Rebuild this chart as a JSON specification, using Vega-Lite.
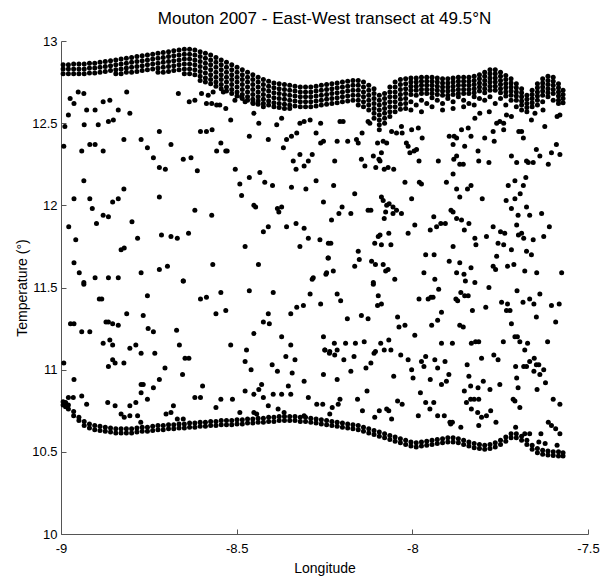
{
"$schema":"https://vega.github.io/schema/vega-lite/v6.json",
"width":527,"height":493,
"autosize":{"type":"none"},
"padding":{"left":61,"top":41,"right":12,"bottom":49},
"background":"white",
"config":{"view":{"stroke":null},"font":"Liberation Sans"},
"title":{"text":"Mouton 2007 - East-West transect at 49.5°N","font":"Liberation Sans","fontSize":17,"fontWeight":"normal","color":"black","anchor":"middle","offset":7},
"data":{"values":[
{"lon":-8.994,"temp":12.855},{"lon":-8.994,"temp":12.83},{"lon":-8.994,"temp":12.8},
{"lon":-8.979,"temp":12.855},{"lon":-8.979,"temp":12.83},{"lon":-8.979,"temp":12.8},
{"lon":-8.964,"temp":12.86},{"lon":-8.964,"temp":12.83},{"lon":-8.964,"temp":12.8},
{"lon":-8.949,"temp":12.86},{"lon":-8.949,"temp":12.83},{"lon":-8.949,"temp":12.8},
{"lon":-8.934,"temp":12.86},{"lon":-8.934,"temp":12.83},{"lon":-8.934,"temp":12.8},
{"lon":-8.919,"temp":12.865},{"lon":-8.919,"temp":12.835},{"lon":-8.919,"temp":12.805},
{"lon":-8.904,"temp":12.865},{"lon":-8.904,"temp":12.835},{"lon":-8.904,"temp":12.805},
{"lon":-8.889,"temp":12.87},{"lon":-8.889,"temp":12.84},{"lon":-8.889,"temp":12.81},
{"lon":-8.874,"temp":12.875},{"lon":-8.874,"temp":12.845},{"lon":-8.874,"temp":12.815},
{"lon":-8.859,"temp":12.88},{"lon":-8.859,"temp":12.85},{"lon":-8.859,"temp":12.82},
{"lon":-8.844,"temp":12.885},{"lon":-8.844,"temp":12.855},{"lon":-8.844,"temp":12.825},{"lon":-8.844,"temp":12.8},
{"lon":-8.829,"temp":12.89},{"lon":-8.829,"temp":12.86},{"lon":-8.829,"temp":12.83},{"lon":-8.829,"temp":12.8},
{"lon":-8.814,"temp":12.895},{"lon":-8.814,"temp":12.865},{"lon":-8.814,"temp":12.835},{"lon":-8.814,"temp":12.81},
{"lon":-8.799,"temp":12.9},{"lon":-8.799,"temp":12.87},{"lon":-8.799,"temp":12.84},{"lon":-8.799,"temp":12.81},
{"lon":-8.784,"temp":12.905},{"lon":-8.784,"temp":12.875},{"lon":-8.784,"temp":12.845},{"lon":-8.784,"temp":12.815},
{"lon":-8.769,"temp":12.91},{"lon":-8.769,"temp":12.88},{"lon":-8.769,"temp":12.85},{"lon":-8.769,"temp":12.82},
{"lon":-8.754,"temp":12.915},{"lon":-8.754,"temp":12.885},{"lon":-8.754,"temp":12.855},{"lon":-8.754,"temp":12.825},
{"lon":-8.739,"temp":12.92},{"lon":-8.739,"temp":12.89},{"lon":-8.739,"temp":12.86},{"lon":-8.739,"temp":12.83},
{"lon":-8.724,"temp":12.925},{"lon":-8.724,"temp":12.895},{"lon":-8.724,"temp":12.865},{"lon":-8.724,"temp":12.835},{"lon":-8.724,"temp":12.81},
{"lon":-8.709,"temp":12.93},{"lon":-8.709,"temp":12.9},{"lon":-8.709,"temp":12.87},{"lon":-8.709,"temp":12.84},{"lon":-8.709,"temp":12.81},
{"lon":-8.694,"temp":12.935},{"lon":-8.694,"temp":12.905},{"lon":-8.694,"temp":12.875},{"lon":-8.694,"temp":12.845},{"lon":-8.694,"temp":12.815},
{"lon":-8.679,"temp":12.94},{"lon":-8.679,"temp":12.91},{"lon":-8.679,"temp":12.88},{"lon":-8.679,"temp":12.85},{"lon":-8.679,"temp":12.82},
{"lon":-8.664,"temp":12.945},{"lon":-8.664,"temp":12.915},{"lon":-8.664,"temp":12.885},{"lon":-8.664,"temp":12.855},{"lon":-8.664,"temp":12.825},
{"lon":-8.649,"temp":12.95},{"lon":-8.649,"temp":12.92},{"lon":-8.649,"temp":12.89},{"lon":-8.649,"temp":12.86},{"lon":-8.649,"temp":12.83},{"lon":-8.649,"temp":12.8},
{"lon":-8.634,"temp":12.95},{"lon":-8.634,"temp":12.92},{"lon":-8.634,"temp":12.89},{"lon":-8.634,"temp":12.86},{"lon":-8.634,"temp":12.83},{"lon":-8.634,"temp":12.8},
{"lon":-8.619,"temp":12.945},{"lon":-8.619,"temp":12.915},{"lon":-8.619,"temp":12.885},{"lon":-8.619,"temp":12.855},{"lon":-8.619,"temp":12.825},{"lon":-8.619,"temp":12.795},
{"lon":-8.604,"temp":12.935},{"lon":-8.604,"temp":12.905},{"lon":-8.604,"temp":12.875},{"lon":-8.604,"temp":12.845},{"lon":-8.604,"temp":12.815},{"lon":-8.604,"temp":12.785},{"lon":-8.604,"temp":12.76},
{"lon":-8.589,"temp":12.925},{"lon":-8.589,"temp":12.895},{"lon":-8.589,"temp":12.865},{"lon":-8.589,"temp":12.835},{"lon":-8.589,"temp":12.805},{"lon":-8.589,"temp":12.775},{"lon":-8.589,"temp":12.75},
{"lon":-8.574,"temp":12.915},{"lon":-8.574,"temp":12.885},{"lon":-8.574,"temp":12.855},{"lon":-8.574,"temp":12.825},{"lon":-8.574,"temp":12.795},{"lon":-8.574,"temp":12.765},{"lon":-8.574,"temp":12.74},
{"lon":-8.559,"temp":12.9},{"lon":-8.559,"temp":12.87},{"lon":-8.559,"temp":12.84},{"lon":-8.559,"temp":12.81},{"lon":-8.559,"temp":12.78},{"lon":-8.559,"temp":12.75},{"lon":-8.559,"temp":12.725},
{"lon":-8.544,"temp":12.885},{"lon":-8.544,"temp":12.855},{"lon":-8.544,"temp":12.825},{"lon":-8.544,"temp":12.795},{"lon":-8.544,"temp":12.765},{"lon":-8.544,"temp":12.735},{"lon":-8.544,"temp":12.71},
{"lon":-8.529,"temp":12.87},{"lon":-8.529,"temp":12.84},{"lon":-8.529,"temp":12.81},{"lon":-8.529,"temp":12.78},{"lon":-8.529,"temp":12.75},{"lon":-8.529,"temp":12.72},{"lon":-8.529,"temp":12.695},
{"lon":-8.514,"temp":12.855},{"lon":-8.514,"temp":12.825},{"lon":-8.514,"temp":12.795},{"lon":-8.514,"temp":12.765},{"lon":-8.514,"temp":12.735},{"lon":-8.514,"temp":12.705},{"lon":-8.514,"temp":12.68},
{"lon":-8.499,"temp":12.84},{"lon":-8.499,"temp":12.81},{"lon":-8.499,"temp":12.78},{"lon":-8.499,"temp":12.75},{"lon":-8.499,"temp":12.72},{"lon":-8.499,"temp":12.69},{"lon":-8.499,"temp":12.665},
{"lon":-8.484,"temp":12.825},{"lon":-8.484,"temp":12.795},{"lon":-8.484,"temp":12.765},{"lon":-8.484,"temp":12.735},{"lon":-8.484,"temp":12.705},{"lon":-8.484,"temp":12.675},{"lon":-8.484,"temp":12.65},
{"lon":-8.469,"temp":12.81},{"lon":-8.469,"temp":12.78},{"lon":-8.469,"temp":12.75},{"lon":-8.469,"temp":12.72},{"lon":-8.469,"temp":12.69},{"lon":-8.469,"temp":12.66},{"lon":-8.469,"temp":12.64},
{"lon":-8.454,"temp":12.795},{"lon":-8.454,"temp":12.765},{"lon":-8.454,"temp":12.735},{"lon":-8.454,"temp":12.705},{"lon":-8.454,"temp":12.675},{"lon":-8.454,"temp":12.645},{"lon":-8.454,"temp":12.625},
{"lon":-8.439,"temp":12.78},{"lon":-8.439,"temp":12.75},{"lon":-8.439,"temp":12.72},{"lon":-8.439,"temp":12.69},{"lon":-8.439,"temp":12.66},{"lon":-8.439,"temp":12.635},{"lon":-8.439,"temp":12.615},
{"lon":-8.424,"temp":12.765},{"lon":-8.424,"temp":12.735},{"lon":-8.424,"temp":12.705},{"lon":-8.424,"temp":12.675},{"lon":-8.424,"temp":12.645},{"lon":-8.424,"temp":12.62},
{"lon":-8.409,"temp":12.755},{"lon":-8.409,"temp":12.725},{"lon":-8.409,"temp":12.695},{"lon":-8.409,"temp":12.665},{"lon":-8.409,"temp":12.635},{"lon":-8.409,"temp":12.61},
{"lon":-8.394,"temp":12.745},{"lon":-8.394,"temp":12.715},{"lon":-8.394,"temp":12.685},{"lon":-8.394,"temp":12.655},{"lon":-8.394,"temp":12.625},{"lon":-8.394,"temp":12.6},
{"lon":-8.379,"temp":12.74},{"lon":-8.379,"temp":12.71},{"lon":-8.379,"temp":12.68},{"lon":-8.379,"temp":12.65},{"lon":-8.379,"temp":12.62},{"lon":-8.379,"temp":12.595},
{"lon":-8.364,"temp":12.735},{"lon":-8.364,"temp":12.705},{"lon":-8.364,"temp":12.675},{"lon":-8.364,"temp":12.645},{"lon":-8.364,"temp":12.615},{"lon":-8.364,"temp":12.59},
{"lon":-8.349,"temp":12.73},{"lon":-8.349,"temp":12.7},{"lon":-8.349,"temp":12.67},{"lon":-8.349,"temp":12.64},{"lon":-8.349,"temp":12.61},{"lon":-8.349,"temp":12.59},
{"lon":-8.334,"temp":12.725},{"lon":-8.334,"temp":12.695},{"lon":-8.334,"temp":12.665},{"lon":-8.334,"temp":12.635},{"lon":-8.334,"temp":12.605},
{"lon":-8.319,"temp":12.72},{"lon":-8.319,"temp":12.69},{"lon":-8.319,"temp":12.66},{"lon":-8.319,"temp":12.63},{"lon":-8.319,"temp":12.6},
{"lon":-8.304,"temp":12.72},{"lon":-8.304,"temp":12.69},{"lon":-8.304,"temp":12.66},{"lon":-8.304,"temp":12.63},{"lon":-8.304,"temp":12.6},
{"lon":-8.289,"temp":12.72},{"lon":-8.289,"temp":12.69},{"lon":-8.289,"temp":12.66},{"lon":-8.289,"temp":12.63},{"lon":-8.289,"temp":12.6},
{"lon":-8.274,"temp":12.725},{"lon":-8.274,"temp":12.695},{"lon":-8.274,"temp":12.665},{"lon":-8.274,"temp":12.635},{"lon":-8.274,"temp":12.605},
{"lon":-8.259,"temp":12.73},{"lon":-8.259,"temp":12.7},{"lon":-8.259,"temp":12.67},{"lon":-8.259,"temp":12.64},{"lon":-8.259,"temp":12.61},
{"lon":-8.244,"temp":12.735},{"lon":-8.244,"temp":12.705},{"lon":-8.244,"temp":12.675},{"lon":-8.244,"temp":12.645},{"lon":-8.244,"temp":12.615},
{"lon":-8.229,"temp":12.74},{"lon":-8.229,"temp":12.71},{"lon":-8.229,"temp":12.68},{"lon":-8.229,"temp":12.65},{"lon":-8.229,"temp":12.62},
{"lon":-8.214,"temp":12.745},{"lon":-8.214,"temp":12.715},{"lon":-8.214,"temp":12.685},{"lon":-8.214,"temp":12.655},{"lon":-8.214,"temp":12.625},
{"lon":-8.199,"temp":12.75},{"lon":-8.199,"temp":12.72},{"lon":-8.199,"temp":12.69},{"lon":-8.199,"temp":12.66},{"lon":-8.199,"temp":12.63},
{"lon":-8.184,"temp":12.755},{"lon":-8.184,"temp":12.725},{"lon":-8.184,"temp":12.695},{"lon":-8.184,"temp":12.665},{"lon":-8.184,"temp":12.635},
{"lon":-8.169,"temp":12.76},{"lon":-8.169,"temp":12.73},{"lon":-8.169,"temp":12.7},{"lon":-8.169,"temp":12.67},{"lon":-8.169,"temp":12.64},
{"lon":-8.154,"temp":12.76},{"lon":-8.154,"temp":12.73},{"lon":-8.154,"temp":12.7},{"lon":-8.154,"temp":12.67},{"lon":-8.154,"temp":12.64},{"lon":-8.154,"temp":12.61},
{"lon":-8.139,"temp":12.75},{"lon":-8.139,"temp":12.72},{"lon":-8.139,"temp":12.69},{"lon":-8.139,"temp":12.66},{"lon":-8.139,"temp":12.63},{"lon":-8.139,"temp":12.6},
{"lon":-8.124,"temp":12.73},{"lon":-8.124,"temp":12.7},{"lon":-8.124,"temp":12.67},{"lon":-8.124,"temp":12.64},{"lon":-8.124,"temp":12.61},{"lon":-8.124,"temp":12.58},
{"lon":-8.109,"temp":12.71},{"lon":-8.109,"temp":12.68},{"lon":-8.109,"temp":12.65},{"lon":-8.109,"temp":12.62},{"lon":-8.109,"temp":12.59},{"lon":-8.109,"temp":12.56},{"lon":-8.109,"temp":12.53},
{"lon":-8.094,"temp":12.67},{"lon":-8.094,"temp":12.64},{"lon":-8.094,"temp":12.61},{"lon":-8.094,"temp":12.58},{"lon":-8.094,"temp":12.55},{"lon":-8.094,"temp":12.52},{"lon":-8.094,"temp":12.49},{"lon":-8.094,"temp":12.46},
{"lon":-8.079,"temp":12.68},{"lon":-8.079,"temp":12.65},{"lon":-8.079,"temp":12.62},{"lon":-8.079,"temp":12.59},{"lon":-8.079,"temp":12.56},{"lon":-8.079,"temp":12.53},{"lon":-8.079,"temp":12.5},
{"lon":-8.064,"temp":12.72},{"lon":-8.064,"temp":12.69},{"lon":-8.064,"temp":12.66},{"lon":-8.064,"temp":12.63},{"lon":-8.064,"temp":12.6},{"lon":-8.064,"temp":12.57},{"lon":-8.064,"temp":12.54},
{"lon":-8.049,"temp":12.75},{"lon":-8.049,"temp":12.72},{"lon":-8.049,"temp":12.69},{"lon":-8.049,"temp":12.66},{"lon":-8.049,"temp":12.63},{"lon":-8.049,"temp":12.6},{"lon":-8.049,"temp":12.57},
{"lon":-8.034,"temp":12.765},{"lon":-8.034,"temp":12.735},{"lon":-8.034,"temp":12.705},{"lon":-8.034,"temp":12.675},{"lon":-8.034,"temp":12.645},{"lon":-8.034,"temp":12.615},{"lon":-8.034,"temp":12.585},
{"lon":-8.019,"temp":12.77},{"lon":-8.019,"temp":12.74},{"lon":-8.019,"temp":12.71},{"lon":-8.019,"temp":12.68},{"lon":-8.019,"temp":12.65},{"lon":-8.019,"temp":12.62},{"lon":-8.019,"temp":12.59},
{"lon":-8.004,"temp":12.775},{"lon":-8.004,"temp":12.75},{"lon":-8.004,"temp":12.725},{"lon":-8.004,"temp":12.7},{"lon":-8.004,"temp":12.675},{"lon":-8.004,"temp":12.63},{"lon":-8.004,"temp":12.58},
{"lon":-7.989,"temp":12.775},{"lon":-7.989,"temp":12.75},{"lon":-7.989,"temp":12.725},{"lon":-7.989,"temp":12.7},{"lon":-7.989,"temp":12.67},{"lon":-7.989,"temp":12.61},
{"lon":-7.974,"temp":12.78},{"lon":-7.974,"temp":12.755},{"lon":-7.974,"temp":12.73},{"lon":-7.974,"temp":12.705},{"lon":-7.974,"temp":12.68},{"lon":-7.974,"temp":12.64},{"lon":-7.974,"temp":12.57},
{"lon":-7.959,"temp":12.78},{"lon":-7.959,"temp":12.755},{"lon":-7.959,"temp":12.73},{"lon":-7.959,"temp":12.705},{"lon":-7.959,"temp":12.68},{"lon":-7.959,"temp":12.62},
{"lon":-7.944,"temp":12.78},{"lon":-7.944,"temp":12.755},{"lon":-7.944,"temp":12.73},{"lon":-7.944,"temp":12.705},{"lon":-7.944,"temp":12.68},{"lon":-7.944,"temp":12.655},{"lon":-7.944,"temp":12.6},
{"lon":-7.929,"temp":12.775},{"lon":-7.929,"temp":12.75},{"lon":-7.929,"temp":12.725},{"lon":-7.929,"temp":12.7},{"lon":-7.929,"temp":12.675},{"lon":-7.929,"temp":12.64},
{"lon":-7.914,"temp":12.77},{"lon":-7.914,"temp":12.745},{"lon":-7.914,"temp":12.72},{"lon":-7.914,"temp":12.695},{"lon":-7.914,"temp":12.67},{"lon":-7.914,"temp":12.62},{"lon":-7.914,"temp":12.58},
{"lon":-7.899,"temp":12.77},{"lon":-7.899,"temp":12.745},{"lon":-7.899,"temp":12.72},{"lon":-7.899,"temp":12.695},{"lon":-7.899,"temp":12.67},{"lon":-7.899,"temp":12.65},
{"lon":-7.884,"temp":12.775},{"lon":-7.884,"temp":12.75},{"lon":-7.884,"temp":12.725},{"lon":-7.884,"temp":12.7},{"lon":-7.884,"temp":12.675},{"lon":-7.884,"temp":12.63},{"lon":-7.884,"temp":12.59},
{"lon":-7.869,"temp":12.78},{"lon":-7.869,"temp":12.755},{"lon":-7.869,"temp":12.73},{"lon":-7.869,"temp":12.705},{"lon":-7.869,"temp":12.68},{"lon":-7.869,"temp":12.66},
{"lon":-7.854,"temp":12.78},{"lon":-7.854,"temp":12.755},{"lon":-7.854,"temp":12.73},{"lon":-7.854,"temp":12.705},{"lon":-7.854,"temp":12.68},{"lon":-7.854,"temp":12.64},{"lon":-7.854,"temp":12.6},
{"lon":-7.839,"temp":12.78},{"lon":-7.839,"temp":12.755},{"lon":-7.839,"temp":12.73},{"lon":-7.839,"temp":12.705},{"lon":-7.839,"temp":12.68},{"lon":-7.839,"temp":12.62},
{"lon":-7.824,"temp":12.785},{"lon":-7.824,"temp":12.76},{"lon":-7.824,"temp":12.735},{"lon":-7.824,"temp":12.71},{"lon":-7.824,"temp":12.685},{"lon":-7.824,"temp":12.66},{"lon":-7.824,"temp":12.61},
{"lon":-7.809,"temp":12.795},{"lon":-7.809,"temp":12.77},{"lon":-7.809,"temp":12.745},{"lon":-7.809,"temp":12.72},{"lon":-7.809,"temp":12.695},{"lon":-7.809,"temp":12.65},
{"lon":-7.794,"temp":12.81},{"lon":-7.794,"temp":12.785},{"lon":-7.794,"temp":12.76},{"lon":-7.794,"temp":12.735},{"lon":-7.794,"temp":12.71},{"lon":-7.794,"temp":12.685},{"lon":-7.794,"temp":12.64},
{"lon":-7.779,"temp":12.825},{"lon":-7.779,"temp":12.8},{"lon":-7.779,"temp":12.775},{"lon":-7.779,"temp":12.75},{"lon":-7.779,"temp":12.725},{"lon":-7.779,"temp":12.7},{"lon":-7.779,"temp":12.66},
{"lon":-7.764,"temp":12.825},{"lon":-7.764,"temp":12.8},{"lon":-7.764,"temp":12.775},{"lon":-7.764,"temp":12.75},{"lon":-7.764,"temp":12.725},{"lon":-7.764,"temp":12.7},{"lon":-7.764,"temp":12.62},
{"lon":-7.749,"temp":12.81},{"lon":-7.749,"temp":12.785},{"lon":-7.749,"temp":12.76},{"lon":-7.749,"temp":12.735},{"lon":-7.749,"temp":12.71},{"lon":-7.749,"temp":12.685},{"lon":-7.749,"temp":12.65},
{"lon":-7.734,"temp":12.79},{"lon":-7.734,"temp":12.765},{"lon":-7.734,"temp":12.74},{"lon":-7.734,"temp":12.715},{"lon":-7.734,"temp":12.69},{"lon":-7.734,"temp":12.665},{"lon":-7.734,"temp":12.61},
{"lon":-7.719,"temp":12.77},{"lon":-7.719,"temp":12.745},{"lon":-7.719,"temp":12.72},{"lon":-7.719,"temp":12.695},{"lon":-7.719,"temp":12.67},{"lon":-7.719,"temp":12.64},
{"lon":-7.704,"temp":12.74},{"lon":-7.704,"temp":12.715},{"lon":-7.704,"temp":12.69},{"lon":-7.704,"temp":12.665},{"lon":-7.704,"temp":12.64},{"lon":-7.704,"temp":12.6},
{"lon":-7.689,"temp":12.71},{"lon":-7.689,"temp":12.685},{"lon":-7.689,"temp":12.66},{"lon":-7.689,"temp":12.635},{"lon":-7.689,"temp":12.61},{"lon":-7.689,"temp":12.58},
{"lon":-7.674,"temp":12.67},{"lon":-7.674,"temp":12.645},{"lon":-7.674,"temp":12.62},{"lon":-7.674,"temp":12.595},{"lon":-7.674,"temp":12.57},
{"lon":-7.659,"temp":12.7},{"lon":-7.659,"temp":12.675},{"lon":-7.659,"temp":12.65},{"lon":-7.659,"temp":12.625},{"lon":-7.659,"temp":12.6},
{"lon":-7.644,"temp":12.74},{"lon":-7.644,"temp":12.715},{"lon":-7.644,"temp":12.69},{"lon":-7.644,"temp":12.665},{"lon":-7.644,"temp":12.64},{"lon":-7.644,"temp":12.61},
{"lon":-7.629,"temp":12.77},{"lon":-7.629,"temp":12.745},{"lon":-7.629,"temp":12.72},{"lon":-7.629,"temp":12.695},{"lon":-7.629,"temp":12.67},{"lon":-7.629,"temp":12.63},
{"lon":-7.614,"temp":12.785},{"lon":-7.614,"temp":12.76},{"lon":-7.614,"temp":12.735},{"lon":-7.614,"temp":12.71},{"lon":-7.614,"temp":12.685},{"lon":-7.614,"temp":12.66},
{"lon":-7.599,"temp":12.78},{"lon":-7.599,"temp":12.755},{"lon":-7.599,"temp":12.73},{"lon":-7.599,"temp":12.705},{"lon":-7.599,"temp":12.68},{"lon":-7.599,"temp":12.64},
{"lon":-7.584,"temp":12.74},{"lon":-7.584,"temp":12.715},{"lon":-7.584,"temp":12.69},{"lon":-7.584,"temp":12.665},{"lon":-7.584,"temp":12.64},{"lon":-7.584,"temp":12.62},
{"lon":-7.571,"temp":12.7},{"lon":-7.571,"temp":12.675},{"lon":-7.571,"temp":12.65},{"lon":-7.571,"temp":12.625},
{"lon":-8.994,"temp":10.805},{"lon":-8.994,"temp":10.785},{"lon":-8.987,"temp":10.8},{"lon":-8.987,"temp":10.775},
{"lon":-8.979,"temp":10.785},{"lon":-8.979,"temp":10.76},{"lon":-8.964,"temp":10.745},{"lon":-8.964,"temp":10.72},
{"lon":-8.949,"temp":10.71},{"lon":-8.949,"temp":10.69},{"lon":-8.934,"temp":10.685},{"lon":-8.934,"temp":10.66},
{"lon":-8.919,"temp":10.67},{"lon":-8.919,"temp":10.645},{"lon":-8.904,"temp":10.66},{"lon":-8.904,"temp":10.635},
{"lon":-8.889,"temp":10.655},{"lon":-8.889,"temp":10.63},{"lon":-8.874,"temp":10.65},{"lon":-8.874,"temp":10.625},
{"lon":-8.859,"temp":10.645},{"lon":-8.859,"temp":10.62},{"lon":-8.844,"temp":10.64},{"lon":-8.844,"temp":10.615},
{"lon":-8.829,"temp":10.64},{"lon":-8.829,"temp":10.615},{"lon":-8.814,"temp":10.64},{"lon":-8.814,"temp":10.615},
{"lon":-8.799,"temp":10.64},{"lon":-8.799,"temp":10.615},{"lon":-8.784,"temp":10.645},{"lon":-8.784,"temp":10.62},
{"lon":-8.769,"temp":10.65},{"lon":-8.769,"temp":10.625},{"lon":-8.754,"temp":10.65},{"lon":-8.754,"temp":10.625},
{"lon":-8.739,"temp":10.655},{"lon":-8.739,"temp":10.63},{"lon":-8.724,"temp":10.66},{"lon":-8.724,"temp":10.635},
{"lon":-8.709,"temp":10.66},{"lon":-8.709,"temp":10.635},{"lon":-8.694,"temp":10.665},{"lon":-8.694,"temp":10.64},
{"lon":-8.679,"temp":10.665},{"lon":-8.679,"temp":10.64},{"lon":-8.664,"temp":10.67},{"lon":-8.664,"temp":10.645},
{"lon":-8.649,"temp":10.67},{"lon":-8.649,"temp":10.645},{"lon":-8.634,"temp":10.675},{"lon":-8.634,"temp":10.65},
{"lon":-8.619,"temp":10.675},{"lon":-8.619,"temp":10.65},{"lon":-8.604,"temp":10.68},{"lon":-8.604,"temp":10.655},
{"lon":-8.589,"temp":10.68},{"lon":-8.589,"temp":10.655},{"lon":-8.574,"temp":10.685},{"lon":-8.574,"temp":10.66},
{"lon":-8.559,"temp":10.685},{"lon":-8.559,"temp":10.66},{"lon":-8.544,"temp":10.69},{"lon":-8.544,"temp":10.665},
{"lon":-8.529,"temp":10.69},{"lon":-8.529,"temp":10.665},{"lon":-8.514,"temp":10.69},{"lon":-8.514,"temp":10.665},
{"lon":-8.499,"temp":10.695},{"lon":-8.499,"temp":10.67},{"lon":-8.484,"temp":10.695},{"lon":-8.484,"temp":10.67},
{"lon":-8.469,"temp":10.7},{"lon":-8.469,"temp":10.675},{"lon":-8.454,"temp":10.7},{"lon":-8.454,"temp":10.675},
{"lon":-8.439,"temp":10.705},{"lon":-8.439,"temp":10.68},{"lon":-8.424,"temp":10.705},{"lon":-8.424,"temp":10.68},
{"lon":-8.409,"temp":10.71},{"lon":-8.409,"temp":10.685},{"lon":-8.394,"temp":10.71},{"lon":-8.394,"temp":10.685},
{"lon":-8.379,"temp":10.715},{"lon":-8.379,"temp":10.69},{"lon":-8.364,"temp":10.715},{"lon":-8.364,"temp":10.69},
{"lon":-8.349,"temp":10.715},{"lon":-8.349,"temp":10.69},{"lon":-8.334,"temp":10.715},{"lon":-8.334,"temp":10.69},
{"lon":-8.319,"temp":10.71},{"lon":-8.319,"temp":10.685},{"lon":-8.304,"temp":10.71},{"lon":-8.304,"temp":10.685},
{"lon":-8.289,"temp":10.705},{"lon":-8.289,"temp":10.68},{"lon":-8.274,"temp":10.7},{"lon":-8.274,"temp":10.675},
{"lon":-8.259,"temp":10.695},{"lon":-8.259,"temp":10.67},{"lon":-8.244,"temp":10.69},{"lon":-8.244,"temp":10.665},
{"lon":-8.229,"temp":10.685},{"lon":-8.229,"temp":10.66},{"lon":-8.214,"temp":10.68},{"lon":-8.214,"temp":10.655},
{"lon":-8.199,"temp":10.675},{"lon":-8.199,"temp":10.65},{"lon":-8.184,"temp":10.67},{"lon":-8.184,"temp":10.645},
{"lon":-8.169,"temp":10.665},{"lon":-8.169,"temp":10.64},{"lon":-8.154,"temp":10.66},{"lon":-8.154,"temp":10.635},
{"lon":-8.139,"temp":10.65},{"lon":-8.139,"temp":10.625},{"lon":-8.124,"temp":10.64},{"lon":-8.124,"temp":10.615},
{"lon":-8.109,"temp":10.63},{"lon":-8.109,"temp":10.605},{"lon":-8.094,"temp":10.62},{"lon":-8.094,"temp":10.595},
{"lon":-8.079,"temp":10.61},{"lon":-8.079,"temp":10.585},{"lon":-8.064,"temp":10.6},{"lon":-8.064,"temp":10.575},
{"lon":-8.049,"temp":10.59},{"lon":-8.049,"temp":10.565},{"lon":-8.034,"temp":10.58},{"lon":-8.034,"temp":10.555},
{"lon":-8.019,"temp":10.57},{"lon":-8.019,"temp":10.545},{"lon":-8.004,"temp":10.56},{"lon":-8.004,"temp":10.535},
{"lon":-7.989,"temp":10.555},{"lon":-7.989,"temp":10.53},{"lon":-7.974,"temp":10.56},{"lon":-7.974,"temp":10.535},
{"lon":-7.959,"temp":10.565},{"lon":-7.959,"temp":10.54},{"lon":-7.944,"temp":10.57},{"lon":-7.944,"temp":10.545},
{"lon":-7.929,"temp":10.575},{"lon":-7.929,"temp":10.55},{"lon":-7.914,"temp":10.58},{"lon":-7.914,"temp":10.555},
{"lon":-7.899,"temp":10.585},{"lon":-7.899,"temp":10.56},{"lon":-7.884,"temp":10.585},{"lon":-7.884,"temp":10.56},
{"lon":-7.869,"temp":10.58},{"lon":-7.869,"temp":10.555},{"lon":-7.854,"temp":10.57},{"lon":-7.854,"temp":10.545},
{"lon":-7.839,"temp":10.56},{"lon":-7.839,"temp":10.535},{"lon":-7.824,"temp":10.55},{"lon":-7.824,"temp":10.525},
{"lon":-7.809,"temp":10.545},{"lon":-7.809,"temp":10.52},{"lon":-7.794,"temp":10.54},{"lon":-7.794,"temp":10.515},
{"lon":-7.779,"temp":10.545},{"lon":-7.779,"temp":10.52},{"lon":-7.764,"temp":10.555},{"lon":-7.764,"temp":10.53},
{"lon":-7.749,"temp":10.57},{"lon":-7.749,"temp":10.545},{"lon":-7.734,"temp":10.59},{"lon":-7.734,"temp":10.565},
{"lon":-7.719,"temp":10.61},{"lon":-7.719,"temp":10.585},{"lon":-7.704,"temp":10.61},{"lon":-7.704,"temp":10.585},
{"lon":-7.689,"temp":10.595},{"lon":-7.689,"temp":10.57},{"lon":-7.674,"temp":10.57},{"lon":-7.674,"temp":10.545},
{"lon":-7.659,"temp":10.54},{"lon":-7.659,"temp":10.515},{"lon":-7.644,"temp":10.52},{"lon":-7.644,"temp":10.495},
{"lon":-7.629,"temp":10.51},{"lon":-7.629,"temp":10.485},{"lon":-7.614,"temp":10.505},{"lon":-7.614,"temp":10.48},
{"lon":-7.599,"temp":10.5},{"lon":-7.599,"temp":10.478},{"lon":-7.584,"temp":10.5},{"lon":-7.584,"temp":10.475},
{"lon":-7.571,"temp":10.495},{"lon":-7.571,"temp":10.475},
{"lon":-8.974,"temp":12.65},{"lon":-8.963,"temp":12.62},{"lon":-8.951,"temp":12.69},{"lon":-8.935,"temp":12.68},{"lon":-8.979,"temp":12.55},{"lon":-8.989,"temp":12.48},{"lon":-8.992,"temp":12.36},{"lon":-8.927,"temp":12.58},{"lon":-8.903,"temp":12.58},{"lon":-8.88,"temp":12.63},{"lon":-8.861,"temp":12.64},{"lon":-8.837,"temp":12.58},{"lon":-8.804,"temp":12.56},{"lon":-8.813,"temp":12.69},{"lon":-8.934,"temp":12.49},{"lon":-8.894,"temp":12.49},{"lon":-8.865,"temp":12.51},{"lon":-8.851,"temp":12.52},{"lon":-8.918,"temp":12.37},{"lon":-8.903,"temp":12.37},{"lon":-8.941,"temp":12.33},{"lon":-8.88,"temp":12.33},{"lon":-8.821,"temp":12.4},{"lon":-8.772,"temp":12.4},{"lon":-8.754,"temp":12.35},{"lon":-8.737,"temp":12.29},{"lon":-8.72,"temp":12.45},{"lon":-8.687,"temp":12.37},{"lon":-8.72,"temp":12.23},{"lon":-8.703,"temp":12.22},{"lon":-8.652,"temp":12.28},{"lon":-8.63,"temp":12.29},{"lon":-8.612,"temp":12.21},{"lon":-8.603,"temp":12.45},{"lon":-8.586,"temp":12.45},{"lon":-8.57,"temp":12.46},{"lon":-8.557,"temp":12.33},{"lon":-8.545,"temp":12.38},{"lon":-8.531,"temp":12.33},{"lon":-8.527,"temp":12.33},{"lon":-8.517,"temp":12.52},{"lon":-8.504,"temp":12.22},{"lon":-8.491,"temp":12.13},{"lon":-8.486,"temp":12.06},{"lon":-8.464,"temp":12.17},{"lon":-8.434,"temp":12.2},{"lon":-8.42,"temp":12.14},{"lon":-8.398,"temp":12.12},{"lon":-8.464,"temp":12.42},{"lon":-8.437,"temp":12.5},{"lon":-8.41,"temp":12.4},{"lon":-8.451,"temp":12.56},{"lon":-8.424,"temp":12.6},{"lon":-8.386,"temp":12.49},{"lon":-8.372,"temp":12.53},{"lon":-8.367,"temp":12.35},{"lon":-8.358,"temp":12.4},{"lon":-8.344,"temp":12.42},{"lon":-8.329,"temp":12.44},{"lon":-8.32,"temp":12.5},{"lon":-8.308,"temp":12.51},{"lon":-8.291,"temp":12.52},{"lon":-8.261,"temp":12.5},{"lon":-8.339,"temp":12.27},{"lon":-8.32,"temp":12.31},{"lon":-8.331,"temp":12.22},{"lon":-8.308,"temp":12.24},{"lon":-8.296,"temp":12.27},{"lon":-8.285,"temp":12.31},{"lon":-8.274,"temp":12.15},{"lon":-8.274,"temp":12.44},{"lon":-8.261,"temp":12.38},{"lon":-8.253,"temp":12.39},{"lon":-8.344,"temp":12.11},{"lon":-8.303,"temp":12.1},{"lon":-8.253,"temp":12.02},{"lon":-8.935,"temp":12.15},{"lon":-8.963,"temp":12.04},{"lon":-8.918,"temp":12.04},{"lon":-8.911,"temp":11.98},{"lon":-8.88,"temp":11.94},{"lon":-8.865,"temp":11.93},{"lon":-8.899,"temp":11.89},{"lon":-8.853,"temp":12.02},{"lon":-8.837,"temp":12.04},{"lon":-8.821,"temp":12.1},{"lon":-8.72,"temp":12.05},{"lon":-8.798,"temp":11.9},{"lon":-8.782,"temp":11.8},{"lon":-8.978,"temp":11.87},{"lon":-8.958,"temp":11.79},{"lon":-8.714,"temp":11.82},{"lon":-8.687,"temp":11.81},{"lon":-8.669,"temp":11.8},{"lon":-8.637,"temp":11.83},{"lon":-8.619,"temp":11.97},{"lon":-8.571,"temp":11.94},{"lon":-8.829,"temp":11.73},{"lon":-8.82,"temp":11.74},{"lon":-8.963,"temp":11.65},{"lon":-8.948,"temp":11.59},{"lon":-8.935,"temp":11.53},{"lon":-8.903,"temp":11.56},{"lon":-8.865,"temp":11.56},{"lon":-8.837,"temp":11.56},{"lon":-8.772,"temp":11.59},{"lon":-8.72,"temp":11.61},{"lon":-8.697,"temp":11.63},{"lon":-8.652,"temp":11.54},{"lon":-8.568,"temp":11.64},{"lon":-8.476,"temp":11.75},{"lon":-8.438,"temp":11.64},{"lon":-8.451,"temp":12.0},{"lon":-8.446,"temp":11.99},{"lon":-8.424,"temp":11.84},{"lon":-8.41,"temp":11.87},{"lon":-8.384,"temp":11.98},{"lon":-8.372,"temp":11.99},{"lon":-8.38,"temp":11.96},{"lon":-8.358,"temp":11.87},{"lon":-8.331,"temp":11.89},{"lon":-8.308,"temp":11.86},{"lon":-8.32,"temp":11.75},{"lon":-8.296,"temp":11.8},{"lon":-8.263,"temp":11.79},{"lon":-8.239,"temp":11.77},{"lon":-8.239,"temp":11.68},{"lon":-8.282,"temp":11.56},{"lon":-8.246,"temp":11.58},{"lon":-8.586,"temp":12.62},{"lon":-8.571,"temp":12.62},{"lon":-8.557,"temp":12.61},{"lon":-8.548,"temp":12.61},{"lon":-8.531,"temp":12.59},{"lon":-8.505,"temp":12.64},{"lon":-8.486,"temp":12.66},{"lon":-8.476,"temp":12.63},{"lon":-8.453,"temp":12.62},{"lon":-8.666,"temp":12.68},{"lon":-8.635,"temp":12.63},{"lon":-8.619,"temp":12.64},{"lon":-8.6,"temp":12.68},{"lon":-8.581,"temp":12.67},{"lon":-8.567,"temp":12.69},{"lon":-8.538,"temp":12.69},
{"lon":-8.206,"temp":12.51},{"lon":-8.197,"temp":12.51},{"lon":-8.214,"temp":12.39},{"lon":-8.184,"temp":12.39},{"lon":-8.221,"temp":12.27},{"lon":-8.159,"temp":12.4},{"lon":-8.154,"temp":12.38},{"lon":-8.143,"temp":12.44},{"lon":-8.126,"temp":12.51},{"lon":-8.121,"temp":12.5},{"lon":-8.145,"temp":12.28},{"lon":-8.135,"temp":12.24},{"lon":-8.111,"temp":12.3},{"lon":-8.104,"temp":12.23},{"lon":-8.095,"temp":12.28},{"lon":-8.092,"temp":12.27},{"lon":-8.088,"temp":12.32},{"lon":-8.08,"temp":12.22},{"lon":-8.069,"temp":12.23},{"lon":-8.053,"temp":12.22},{"lon":-8.099,"temp":12.38},{"lon":-8.083,"temp":12.39},{"lon":-8.073,"temp":12.38},{"lon":-8.059,"temp":12.45},{"lon":-8.045,"temp":12.44},{"lon":-8.031,"temp":12.48},{"lon":-8.029,"temp":12.44},{"lon":-8.017,"temp":12.38},{"lon":-8.012,"temp":12.36},{"lon":-8.007,"temp":12.32},{"lon":-7.995,"temp":12.33},{"lon":-7.988,"temp":12.34},{"lon":-8.002,"temp":12.46},{"lon":-7.983,"temp":12.47},{"lon":-7.972,"temp":12.41},{"lon":-7.981,"temp":12.27},{"lon":-7.926,"temp":12.27},{"lon":-7.895,"temp":12.42},{"lon":-7.881,"temp":12.42},{"lon":-7.884,"temp":12.37},{"lon":-7.874,"temp":12.41},{"lon":-7.882,"temp":12.28},{"lon":-7.874,"temp":12.3},{"lon":-7.865,"temp":12.25},{"lon":-7.855,"temp":12.25},{"lon":-7.851,"temp":12.36},{"lon":-7.86,"temp":12.46},{"lon":-7.841,"temp":12.47},{"lon":-7.833,"temp":12.42},{"lon":-7.822,"temp":12.53},{"lon":-7.808,"temp":12.56},{"lon":-7.794,"temp":12.41},{"lon":-7.781,"temp":12.57},{"lon":-7.77,"temp":12.45},{"lon":-7.767,"temp":12.39},{"lon":-7.76,"temp":12.5},{"lon":-7.751,"temp":12.51},{"lon":-7.74,"temp":12.5},{"lon":-7.74,"temp":12.46},{"lon":-7.732,"temp":12.55},{"lon":-7.718,"temp":12.54},{"lon":-7.697,"temp":12.45},{"lon":-7.689,"temp":12.45},{"lon":-7.684,"temp":12.41},{"lon":-7.718,"temp":12.3},{"lon":-7.703,"temp":12.26},{"lon":-7.675,"temp":12.27},{"lon":-7.67,"temp":12.26},{"lon":-7.656,"temp":12.26},{"lon":-7.647,"temp":12.34},{"lon":-7.637,"temp":12.3},{"lon":-7.623,"temp":12.48},{"lon":-7.613,"temp":12.25},{"lon":-7.604,"temp":12.32},{"lon":-7.59,"temp":12.37},{"lon":-7.58,"temp":12.31},{"lon":-7.588,"temp":12.54},{"lon":-7.58,"temp":12.55},{"lon":-7.661,"temp":12.52},{"lon":-7.651,"temp":12.56},{"lon":-7.628,"temp":12.58},{"lon":-7.813,"temp":12.33},{"lon":-7.811,"temp":12.27},{"lon":-7.782,"temp":12.26},{"lon":-8.224,"temp":12.12},{"lon":-8.23,"temp":11.91},{"lon":-8.232,"temp":11.77},{"lon":-8.24,"temp":11.68},{"lon":-8.244,"temp":11.59},{"lon":-8.225,"temp":11.6},{"lon":-8.209,"temp":11.95},{"lon":-8.2,"temp":11.99},{"lon":-8.175,"temp":11.95},{"lon":-8.164,"temp":12.07},{"lon":-8.154,"temp":11.72},{"lon":-8.151,"temp":11.67},{"lon":-8.164,"temp":11.63},{"lon":-8.116,"temp":11.66},{"lon":-8.105,"temp":11.64},{"lon":-8.111,"temp":11.53},{"lon":-8.126,"temp":11.97},{"lon":-8.118,"temp":11.97},{"lon":-8.088,"temp":12.05},{"lon":-8.083,"temp":12.03},{"lon":-8.073,"temp":12.0},{"lon":-8.066,"temp":12.01},{"lon":-8.08,"temp":11.92},{"lon":-8.076,"temp":11.96},{"lon":-8.055,"temp":11.99},{"lon":-8.055,"temp":11.95},{"lon":-8.045,"temp":11.97},{"lon":-8.031,"temp":11.95},{"lon":-8.097,"temp":11.81},{"lon":-8.092,"temp":11.82},{"lon":-8.107,"temp":11.77},{"lon":-8.088,"temp":11.76},{"lon":-8.067,"temp":11.83},{"lon":-8.061,"temp":11.76},{"lon":-8.083,"temp":11.64},{"lon":-8.076,"temp":11.6},{"lon":-8.069,"temp":11.61},{"lon":-8.05,"temp":11.55},{"lon":-8.021,"temp":12.14},{"lon":-8.002,"temp":12.04},{"lon":-8.012,"temp":11.83},{"lon":-7.993,"temp":11.88},{"lon":-7.98,"temp":12.14},{"lon":-7.974,"temp":12.13},{"lon":-7.962,"temp":11.7},{"lon":-7.939,"temp":11.93},{"lon":-7.938,"temp":11.7},{"lon":-7.949,"temp":11.85},{"lon":-7.931,"temp":11.87},{"lon":-7.919,"temp":11.89},{"lon":-7.906,"temp":11.89},{"lon":-7.967,"temp":11.59},{"lon":-7.936,"temp":11.55},{"lon":-7.903,"temp":12.14},{"lon":-7.884,"temp":12.19},{"lon":-7.874,"temp":12.1},{"lon":-7.865,"temp":12.05},{"lon":-7.843,"temp":12.1},{"lon":-7.833,"temp":12.12},{"lon":-7.89,"temp":11.97},{"lon":-7.884,"temp":11.96},{"lon":-7.874,"temp":11.92},{"lon":-7.86,"temp":11.91},{"lon":-7.852,"temp":11.85},{"lon":-7.839,"temp":11.89},{"lon":-7.884,"temp":11.75},{"lon":-7.895,"temp":11.66},{"lon":-7.865,"temp":11.65},{"lon":-7.874,"temp":11.59},{"lon":-7.853,"temp":11.58},{"lon":-7.849,"temp":11.54},{"lon":-7.822,"temp":11.53},{"lon":-7.833,"temp":11.62},{"lon":-7.822,"temp":11.8},{"lon":-7.819,"temp":11.76},{"lon":-7.801,"temp":12.04},{"lon":-7.789,"temp":11.81},{"lon":-7.77,"temp":11.87},{"lon":-7.76,"temp":11.69},{"lon":-7.77,"temp":11.63},{"lon":-7.763,"temp":11.61},{"lon":-7.756,"temp":11.77},{"lon":-7.749,"temp":11.84},{"lon":-7.737,"temp":11.83},{"lon":-7.74,"temp":11.76},{"lon":-7.729,"temp":11.63},{"lon":-7.718,"temp":11.73},{"lon":-7.711,"temp":11.64},{"lon":-7.733,"temp":12.03},{"lon":-7.727,"temp":12.12},{"lon":-7.718,"temp":11.98},{"lon":-7.708,"temp":12.04},{"lon":-7.708,"temp":12.15},{"lon":-7.693,"temp":12.07},{"lon":-7.699,"temp":11.94},{"lon":-7.684,"temp":12.12},{"lon":-7.677,"temp":12.17},{"lon":-7.675,"temp":11.99},{"lon":-7.666,"temp":11.94},{"lon":-7.703,"temp":11.88},{"lon":-7.698,"temp":11.82},{"lon":-7.689,"temp":11.83},{"lon":-7.683,"temp":11.8},{"lon":-7.656,"temp":11.79},{"lon":-7.675,"temp":11.72},{"lon":-7.661,"temp":11.7},{"lon":-7.646,"temp":11.59},{"lon":-7.632,"temp":11.95},{"lon":-7.626,"temp":11.81},{"lon":-7.61,"temp":11.87},{"lon":-7.575,"temp":11.59},{"lon":-7.68,"temp":11.6},
{"lon":-8.935,"temp":11.52},{"lon":-8.891,"temp":11.43},{"lon":-8.884,"temp":11.43},{"lon":-8.973,"temp":11.28},{"lon":-8.963,"temp":11.28},{"lon":-8.941,"temp":11.23},{"lon":-8.918,"temp":11.23},{"lon":-8.992,"temp":11.04},{"lon":-8.963,"temp":10.94},{"lon":-8.979,"temp":10.83},{"lon":-8.965,"temp":10.83},{"lon":-8.941,"temp":10.84},{"lon":-8.927,"temp":10.79},{"lon":-8.88,"temp":11.16},{"lon":-8.861,"temp":11.18},{"lon":-8.853,"temp":11.15},{"lon":-8.872,"temp":11.29},{"lon":-8.865,"temp":11.29},{"lon":-8.853,"temp":11.28},{"lon":-8.837,"temp":11.27},{"lon":-8.813,"temp":11.34},{"lon":-8.766,"temp":11.33},{"lon":-8.752,"temp":11.25},{"lon":-8.737,"temp":11.23},{"lon":-8.754,"temp":11.45},{"lon":-8.865,"temp":11.02},{"lon":-8.853,"temp":11.06},{"lon":-8.846,"temp":11.04},{"lon":-8.821,"temp":11.04},{"lon":-8.804,"temp":11.13},{"lon":-8.787,"temp":11.15},{"lon":-8.772,"temp":11.1},{"lon":-8.733,"temp":11.1},{"lon":-8.704,"temp":11.01},{"lon":-8.72,"temp":10.94},{"lon":-8.737,"temp":10.89},{"lon":-8.772,"temp":10.91},{"lon":-8.766,"temp":10.91},{"lon":-8.772,"temp":10.86},{"lon":-8.754,"temp":10.82},{"lon":-8.867,"temp":10.8},{"lon":-8.846,"temp":10.78},{"lon":-8.829,"temp":10.73},{"lon":-8.82,"temp":10.71},{"lon":-8.804,"temp":10.78},{"lon":-8.787,"temp":10.8},{"lon":-8.804,"temp":10.72},{"lon":-8.782,"temp":10.72},{"lon":-8.773,"temp":10.68},{"lon":-8.671,"temp":11.24},{"lon":-8.663,"temp":11.15},{"lon":-8.647,"temp":11.07},{"lon":-8.636,"temp":11.07},{"lon":-8.654,"temp":10.97},{"lon":-8.652,"temp":11.54},{"lon":-8.603,"temp":11.43},{"lon":-8.586,"temp":11.44},{"lon":-8.559,"temp":11.34},{"lon":-8.545,"temp":11.47},{"lon":-8.531,"temp":11.36},{"lon":-8.517,"temp":11.15},{"lon":-8.619,"temp":10.83},{"lon":-8.603,"temp":10.83},{"lon":-8.597,"temp":10.9},{"lon":-8.68,"temp":10.78},{"lon":-8.701,"temp":10.73},{"lon":-8.687,"temp":10.74},{"lon":-8.669,"temp":10.7},{"lon":-8.652,"temp":10.7},{"lon":-8.559,"temp":10.77},{"lon":-8.545,"temp":10.82},{"lon":-8.512,"temp":10.82},{"lon":-8.491,"temp":10.74},{"lon":-8.476,"temp":10.87},{"lon":-8.476,"temp":11.05},{"lon":-8.472,"temp":11.12},{"lon":-8.459,"temp":11.0},{"lon":-8.451,"temp":11.22},{"lon":-8.464,"temp":11.48},{"lon":-8.424,"temp":11.29},{"lon":-8.41,"temp":11.34},{"lon":-8.407,"temp":11.28},{"lon":-8.396,"temp":11.47},{"lon":-8.399,"temp":11.03},{"lon":-8.384,"temp":10.99},{"lon":-8.372,"temp":11.2},{"lon":-8.346,"temp":11.34},{"lon":-8.329,"temp":11.38},{"lon":-8.31,"temp":11.39},{"lon":-8.291,"temp":11.46},{"lon":-8.261,"temp":11.4},{"lon":-8.346,"temp":11.15},{"lon":-8.334,"temp":11.06},{"lon":-8.36,"temp":11.08},{"lon":-8.342,"temp":10.98},{"lon":-8.353,"temp":10.9},{"lon":-8.346,"temp":10.85},{"lon":-8.308,"temp":10.93},{"lon":-8.296,"temp":10.83},{"lon":-8.272,"temp":10.79},{"lon":-8.255,"temp":10.79},{"lon":-8.253,"temp":10.97},{"lon":-8.249,"temp":11.12},{"lon":-8.236,"temp":11.1},{"lon":-8.253,"temp":11.2},{"lon":-8.451,"temp":10.85},{"lon":-8.437,"temp":10.88},{"lon":-8.429,"temp":10.91},{"lon":-8.451,"temp":10.74},{"lon":-8.443,"temp":10.73},{"lon":-8.424,"temp":10.83},{"lon":-8.41,"temp":10.78},{"lon":-8.396,"temp":10.85},{"lon":-8.382,"temp":10.76},{"lon":-8.372,"temp":10.85},{"lon":-8.365,"temp":10.74},{"lon":-8.308,"temp":10.72},{"lon":-8.285,"temp":11.55},
{"lon":-8.111,"temp":11.52},{"lon":-8.097,"temp":11.45},{"lon":-8.099,"temp":11.39},{"lon":-8.088,"temp":11.4},{"lon":-8.214,"temp":11.46},{"lon":-8.204,"temp":11.42},{"lon":-8.185,"temp":11.31},{"lon":-8.145,"temp":11.33},{"lon":-8.126,"temp":11.31},{"lon":-8.249,"temp":11.12},{"lon":-8.235,"temp":11.11},{"lon":-8.222,"temp":11.16},{"lon":-8.214,"temp":11.12},{"lon":-8.221,"temp":11.09},{"lon":-8.19,"temp":11.16},{"lon":-8.195,"temp":11.06},{"lon":-8.162,"temp":11.16},{"lon":-8.166,"temp":11.08},{"lon":-8.137,"temp":11.17},{"lon":-8.175,"temp":10.99},{"lon":-8.214,"temp":10.94},{"lon":-8.132,"temp":11.01},{"lon":-8.118,"temp":11.04},{"lon":-8.109,"temp":11.1},{"lon":-8.105,"temp":11.11},{"lon":-8.09,"temp":11.16},{"lon":-8.08,"temp":11.12},{"lon":-8.067,"temp":11.18},{"lon":-8.061,"temp":11.12},{"lon":-8.053,"temp":10.96},{"lon":-8.129,"temp":10.87},{"lon":-8.156,"temp":10.82},{"lon":-8.206,"temp":10.82},{"lon":-8.211,"temp":10.79},{"lon":-8.228,"temp":10.77},{"lon":-8.235,"temp":10.73},{"lon":-8.142,"temp":10.75},{"lon":-8.107,"temp":10.71},{"lon":-8.094,"temp":10.75},{"lon":-8.073,"temp":10.76},{"lon":-8.067,"temp":10.75},{"lon":-8.059,"temp":10.7},{"lon":-8.042,"temp":10.81},{"lon":-8.029,"temp":10.79},{"lon":-8.042,"temp":11.32},{"lon":-8.038,"temp":11.26},{"lon":-8.021,"temp":11.27},{"lon":-7.993,"temp":11.21},{"lon":-8.033,"temp":11.09},{"lon":-8.012,"temp":11.06},{"lon":-8.002,"temp":11.0},{"lon":-7.998,"temp":10.95},{"lon":-7.974,"temp":11.05},{"lon":-7.967,"temp":11.02},{"lon":-7.962,"temp":11.08},{"lon":-7.981,"temp":11.43},{"lon":-7.955,"temp":11.43},{"lon":-7.947,"temp":11.44},{"lon":-7.941,"temp":11.44},{"lon":-7.925,"temp":11.49},{"lon":-7.928,"temp":11.3},{"lon":-7.945,"temp":11.27},{"lon":-7.917,"temp":11.35},{"lon":-7.917,"temp":11.16},{"lon":-7.886,"temp":11.16},{"lon":-7.936,"temp":11.06},{"lon":-7.928,"temp":11.01},{"lon":-7.907,"temp":11.05},{"lon":-7.896,"temp":10.97},{"lon":-7.949,"temp":10.94},{"lon":-7.917,"temp":10.91},{"lon":-7.903,"temp":10.93},{"lon":-7.977,"temp":10.86},{"lon":-7.962,"temp":10.8},{"lon":-7.95,"temp":10.76},{"lon":-7.939,"temp":10.8},{"lon":-7.983,"temp":10.72},{"lon":-7.928,"temp":10.72},{"lon":-7.909,"temp":10.72},{"lon":-7.893,"temp":10.68},{"lon":-7.886,"temp":10.68},{"lon":-7.876,"temp":11.43},{"lon":-7.862,"temp":11.47},{"lon":-7.871,"temp":11.42},{"lon":-7.851,"temp":11.45},{"lon":-7.841,"temp":11.45},{"lon":-7.865,"temp":11.27},{"lon":-7.855,"temp":11.26},{"lon":-7.832,"temp":11.16},{"lon":-7.82,"temp":11.17},{"lon":-7.811,"temp":11.17},{"lon":-7.829,"temp":11.36},{"lon":-7.803,"temp":11.07},{"lon":-7.791,"temp":11.38},{"lon":-7.782,"temp":11.5},{"lon":-7.768,"temp":11.09},{"lon":-7.756,"temp":11.06},{"lon":-7.844,"temp":11.03},{"lon":-7.839,"temp":10.96},{"lon":-7.834,"temp":10.9},{"lon":-7.813,"temp":10.89},{"lon":-7.852,"temp":10.87},{"lon":-7.798,"temp":10.93},{"lon":-7.779,"temp":10.88},{"lon":-7.751,"temp":10.91},{"lon":-7.834,"temp":10.82},{"lon":-7.824,"temp":10.82},{"lon":-7.811,"temp":10.82},{"lon":-7.846,"temp":10.8},{"lon":-7.832,"temp":10.76},{"lon":-7.814,"temp":10.74},{"lon":-7.803,"temp":10.71},{"lon":-7.789,"temp":10.72},{"lon":-7.777,"temp":10.75},{"lon":-7.811,"temp":10.66},{"lon":-7.891,"temp":10.67},{"lon":-7.862,"temp":10.65},{"lon":-7.762,"temp":10.68},{"lon":-7.746,"temp":11.41},{"lon":-7.729,"temp":11.4},{"lon":-7.732,"temp":11.36},{"lon":-7.722,"temp":11.36},{"lon":-7.718,"temp":11.28},{"lon":-7.702,"temp":11.48},{"lon":-7.685,"temp":11.41},{"lon":-7.666,"temp":11.43},{"lon":-7.654,"temp":11.4},{"lon":-7.637,"temp":11.46},{"lon":-7.647,"temp":11.32},{"lon":-7.708,"temp":11.2},{"lon":-7.701,"temp":11.2},{"lon":-7.694,"temp":11.17},{"lon":-7.68,"temp":11.12},{"lon":-7.672,"temp":11.16},{"lon":-7.615,"temp":11.17},{"lon":-7.604,"temp":11.39},{"lon":-7.582,"temp":11.4},{"lon":-7.592,"temp":11.29},{"lon":-7.741,"temp":11.17},{"lon":-7.706,"temp":11.02},{"lon":-7.683,"temp":11.02},{"lon":-7.675,"temp":11.02},{"lon":-7.666,"temp":11.05},{"lon":-7.653,"temp":11.07},{"lon":-7.647,"temp":11.03},{"lon":-7.64,"temp":11.03},{"lon":-7.654,"temp":10.99},{"lon":-7.637,"temp":10.97},{"lon":-7.626,"temp":11.0},{"lon":-7.703,"temp":10.95},{"lon":-7.699,"temp":10.89},{"lon":-7.645,"temp":10.88},{"lon":-7.621,"temp":10.92},{"lon":-7.713,"temp":10.82},{"lon":-7.708,"temp":10.81},{"lon":-7.694,"temp":10.77},{"lon":-7.599,"temp":10.82},{"lon":-7.58,"temp":10.79},{"lon":-7.706,"temp":10.65},{"lon":-7.68,"temp":10.61},{"lon":-7.666,"temp":10.61},{"lon":-7.634,"temp":10.61},{"lon":-7.613,"temp":10.68},{"lon":-7.604,"temp":10.66},{"lon":-7.592,"temp":10.64},{"lon":-7.58,"temp":10.61},{"lon":-7.64,"temp":10.56},{"lon":-7.622,"temp":10.55},{"lon":-7.588,"temp":10.54}
]},
"mark":{"type":"circle","size":25,"color":"black","opacity":1},
"encoding":{
"x":{"field":"lon","type":"quantitative","scale":{"domain":[-9,-7.5],"nice":false,"zero":false},
"axis":{"title":"Longitude","values":[-9,-8.5,-8,-7.5],"labelExpr":"''+datum.value","grid":false,"tickSize":-5,"labelPadding":13,"domainColor":"#555","tickColor":"#555","labelColor":"black","labelFont":"Liberation Sans","labelFontSize":13,"titleFont":"Liberation Sans","titleFontSize":14,"titleFontWeight":"normal","titleColor":"black","titlePadding":6,"labelFlush":false}},
"y":{"field":"temp","type":"quantitative","scale":{"domain":[10,13],"nice":false,"zero":false},
"axis":{"title":"Temperature (°)","values":[10,10.5,11,11.5,12,12.5,13],"labelExpr":"''+datum.value","grid":false,"tickSize":-5,"labelPadding":9,"domainColor":"#555","tickColor":"#555","labelColor":"black","labelFont":"Liberation Sans","labelFontSize":13,"titleFont":"Liberation Sans","titleFontSize":14,"titleFontWeight":"normal","titleColor":"black","titlePadding":2,"labelFlush":false}}
}
}
